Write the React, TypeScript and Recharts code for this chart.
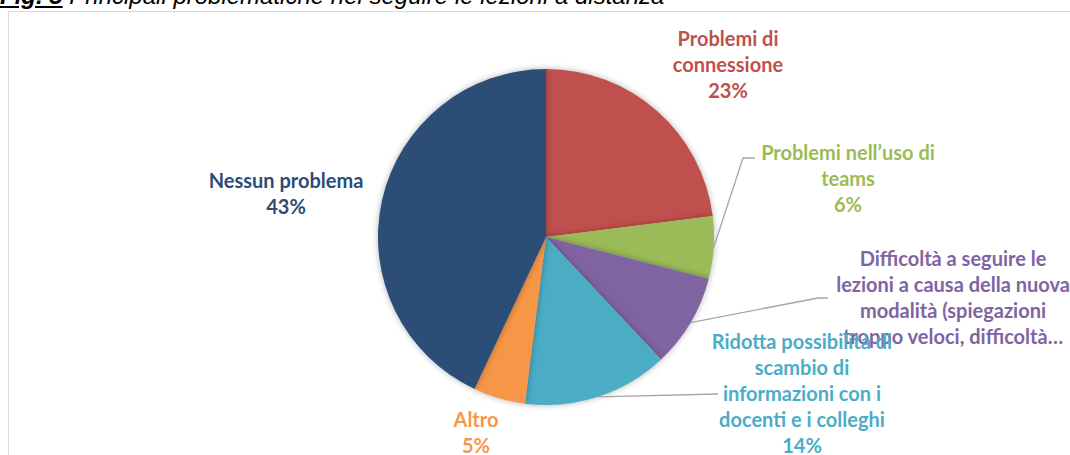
import { PieChart, Pie, Cell } from 'recharts';

// categorie e valori
const categories = [
  'Problemi di connessione',
  'Problemi nell’uso di teams',
  'Difficoltà a seguire le lezioni a causa della nuova modalità (spiegazioni troppo veloci, difficoltà…',
  'Ridotta possibilità di scambio di informazioni con i docenti e i colleghi',
  'Altro',
  'Nessun problema',
];
const values = [23, 6, 9, 14, 5, 43];

// righe delle etichette come appaiono nel grafico
const labelLines = [
  ['Problemi di', 'connessione'],
  ['Problemi nell’uso di', 'teams'],
  ['Difficoltà a seguire le', 'lezioni a causa della nuova', 'modalità (spiegazioni', 'troppo veloci, difficoltà…'],
  ['Ridotta possibilità di', 'scambio di', 'informazioni con i', 'docenti e i colleghi'],
  ['Altro'],
  ['Nessun problema'],
];
// l'etichetta troncata in Excel non mostra la percentuale
const showPercent = [true, true, false, true, true, true];

const colors = ['#C0504D', '#9BBB59', '#8064A2', '#4BACC6', '#F79646', '#2C4D75'];

// posizione del testo (centro x, baseline prima riga) e linee guida
const LABEL_LAYOUT = [
  { x: 728, y: 46 },
  { x: 848, y: 160, leader: { ex: 743, ey: 158, len: 12 } },
  { x: 953, y: 266, leader: { ex: 818, ey: 298, len: 10 } },
  { x: 802, y: 349, leader: { ex: 718, ey: 394, len: 0 } },
  { x: 476, y: 427 },
  { x: 286, y: 188 },
];
const LINE_H = 26;

const chartData = categories.map((name, i) => ({ name, value: values[i] }));

const RAD = Math.PI / 180;

const renderLabel = (props: any) => {
  const { cx, cy, midAngle, outerRadius, index } = props;
  const lay = LABEL_LAYOUT[index];
  const lines = showPercent[index] ? [...labelLines[index], `${values[index]}%`] : labelLines[index];
  let leader = null;
  if (lay.leader) {
    const sx = cx + outerRadius * Math.cos(-midAngle * RAD);
    const sy = cy + outerRadius * Math.sin(-midAngle * RAD);
    const { ex, ey, len } = lay.leader;
    leader = (
      <polyline
        points={`${sx},${sy} ${ex},${ey} ${ex + len},${ey}`}
        fill="none"
        stroke="#A6A6A6"
        strokeWidth={1.3}
      />
    );
  }
  return (
    <g key={`lbl-${index}`}>
      {leader}
      <text
        x={lay.x}
        y={lay.y}
        textAnchor="middle"
        fill={colors[index]}
        fontFamily="Lato, 'Open Sans', sans-serif"
        fontWeight={700}
        fontSize={20}
      >
        {lines.map((l, i) => (
          <tspan key={i} x={lay.x} dy={i === 0 ? 0 : LINE_H}>{l}</tspan>
        ))}
      </text>
    </g>
  );
};

export default function App() {
  return (
    <div style={{ position: 'absolute', left: 0, top: 0, width: 1070, height: 455, overflow: 'hidden', background: '#fff' }}>
      <style>{`.recharts-pie-sector { filter: drop-shadow(0px 0px 3px rgba(0,0,0,0.3)); }`}</style>
      <div
        style={{
          position: 'absolute', left: 0, top: -16, whiteSpace: 'nowrap',
          fontFamily: "'Liberation Sans', Arial, sans-serif", fontStyle: 'italic',
          fontSize: 24, lineHeight: '24px', color: '#000',
        }}
      >
        <span style={{ fontWeight: 700, textDecoration: 'underline' }}>Fig. 5</span> Principali problematiche nel seguire le lezioni a distanza
      </div>
      <div style={{ position: 'absolute', left: 8, top: 11, width: 1200, height: 600, border: '1.5px solid #D9D9D9' }} />
      <div style={{ position: 'absolute', left: 0, top: 0 }}>
        <PieChart width={1070} height={455} margin={{ top: 0, right: 0, bottom: 0, left: 0 }}>
          <Pie
            data={chartData}
            dataKey="value"
            nameKey="name"
            cx={546}
            cy={237}
            outerRadius={168}
            startAngle={90}
            endAngle={-270}
            stroke="none"
            label={renderLabel}
            labelLine={false}
            isAnimationActive={false}
          >
            {chartData.map((entry, index) => (
              <Cell key={`cell-${index}`} fill={colors[index]} />
            ))}
          </Pie>
        </PieChart>
      </div>
    </div>
  );
}
